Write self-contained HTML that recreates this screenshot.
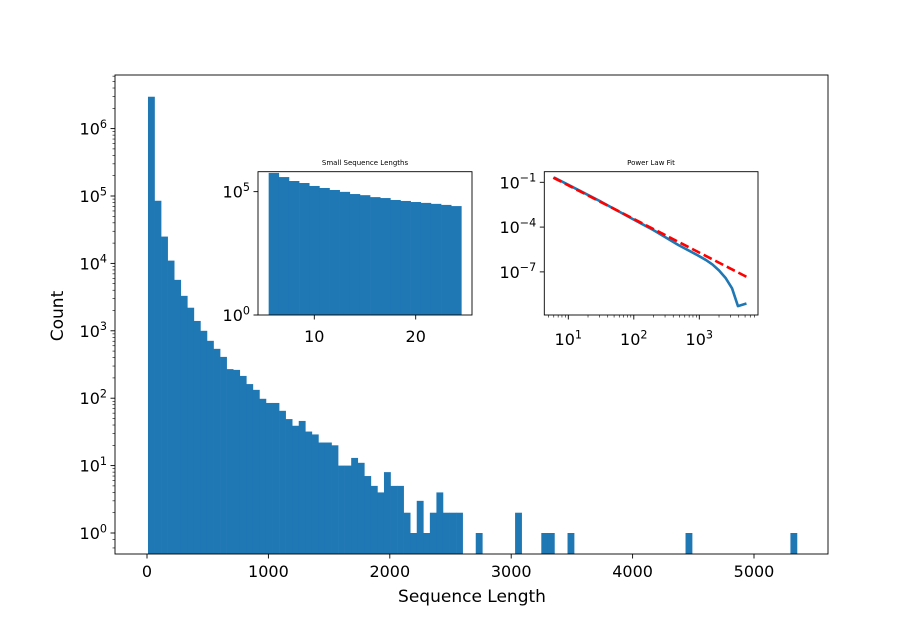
<!DOCTYPE html>
<html><head><meta charset="utf-8"><style>
html,body{margin:0;padding:0;background:#fff;}
svg{display:block;font-family:"DejaVu Sans","Liberation Sans",sans-serif;}
</style></head><body>
<svg id="chart" width="921" height="633" xmlns="http://www.w3.org/2000/svg"></svg>
<script>
// ===== main histogram data =====
const mainBinStart = 8;
const mainBinWidth = 54;
const mainCounts = [2970000,85000,25000,11000,5700,3300,2200,1400,1000,710,540,410,270,263,214,162,133,98,85,85,65,49,39,46,32,29,22,22,20,10,10,13,11,7,5,4,8,5,5,2,1,3,1,2,4,2,2,2,0,0,1,0,0,0,0,0,2,0,0,0,1,1,0,0,1,0,0,0,0,0,0,0,0,0,0,0,0,0,0,0,0,0,1,0,0,0,0,0,0,0,0,0,0,0,0,0,0,0,1];
const mainXTicks = [0,1000,2000,3000,4000,5000];
const mainYTicks = [0,1,2,3,4,5,6];
// ===== inset 1 data =====
const smallBinStart = 5.5;
const smallBinWidth = 1;
const smallCounts = [575000,390000,270000,224000,170000,141000,117000,98000,80000,72000,60000,55000,46000,42000,38000,35000,32000,29000,26000];
const smallXTicks = [10,20];
const smallYTicks = [0,5];
// ===== inset 2 data =====
const fitLogX = [0.78,1.0,1.5,2.0,2.3,2.68,2.98,3.1,3.2,3.3,3.4,3.5,3.59,3.72];
const fitLogY = [-0.67,-1.17,-2.3,-3.5,-4.2,-5.2,-5.9,-6.2,-6.5,-6.9,-7.4,-8.1,-9.29,-9.12];
const powerLogX = [0.771,3.748];
const powerLogY = [-0.69,-7.39];
const plXTicks = [1,2,3];
const plYTicks = [-1,-4,-7];

const svg = document.getElementById('chart');
const NS = 'http://www.w3.org/2000/svg';
function mk(tag, attrs, parent){const e=document.createElementNS(NS,tag);for(const k in attrs)e.setAttribute(k,attrs[k]);(parent||svg).appendChild(e);return e;}
function powLabel(parent,x,y,exp,size,anchor){
  const t=mk('text',{x:x,y:y,'font-size':size,'text-anchor':anchor,fill:'#000'},parent);
  t.appendChild(document.createTextNode('10'));
  const s=document.createElementNS(NS,'tspan');s.setAttribute('dy',-size*0.42);s.setAttribute('font-size',size*0.7);s.textContent=String(exp).replace('-','\u2212');t.appendChild(s);
  return t;
}

// ===== main axes =====
const M={l:115,r:828,t:75,b:554};
const mx=v=>147+(v/1000)*121.4;
const my=l=>533-l*67.4;
const gMain=mk('g',{});


mainCounts.forEach((c,i)=>{
  if(c<=0)return;
  const x0=mx(mainBinStart+i*mainBinWidth), x1=mx(mainBinStart+(i+1)*mainBinWidth);
  const y=my(Math.log10(c));
  const r=mk('rect',{x:x0,y:y,width:x1-x0+0.3,height:M.b-y,fill:'#1f77b4'},gMain);
  
  
});
const frame=mk('rect',{x:M.l,y:M.t,width:M.r-M.l,height:M.b-M.t,fill:'none',stroke:'#000','stroke-width':0.9});


mainXTicks.forEach(v=>{
  const x=mx(v);
  mk('line',{x1:x,x2:x,y1:M.b,y2:M.b+4.5,stroke:'#000','stroke-width':0.9});
  const t=mk('text',{x:x,y:M.b+23,'font-size':16,'text-anchor':'middle',fill:'#000'});
  t.textContent=v;
  
  
});
mainYTicks.forEach(l=>{
  const y=my(l);
  mk('line',{x1:M.l-4.5,x2:M.l,y1:y,y2:y,stroke:'#000','stroke-width':0.9});
  const t=powLabel(svg,M.l-8,y+6,l,16,'end');
  
  
  for(let k=2;k<10;k++){const ym=my(l+Math.log10(k));if(ym>M.t&&ym<M.b)mk('line',{x1:M.l-2.5,x2:M.l,y1:ym,y2:ym,stroke:'#000','stroke-width':0.6});}
});
{const ym=my(Math.log10(0.6));mk('line',{x1:M.l-2.5,x2:M.l,y1:ym,y2:ym,stroke:'#000','stroke-width':0.6});
 const ym2=my(Math.log10(0.8));mk('line',{x1:M.l-2.5,x2:M.l,y1:ym2,y2:ym2,stroke:'#000','stroke-width':0.6});}
const xl=mk('text',{x:472,y:602,'font-size':17,'text-anchor':'middle',fill:'#000'});xl.textContent='Sequence Length';

const yl=mk('text',{x:0,y:0,'font-size':17,'text-anchor':'middle',fill:'#000',transform:'translate(63,316) rotate(-90)'});yl.textContent='Count';


// ===== inset 1 =====
const A={l:258,r:472,t:171.7,b:315};
const ax=v=>314.3+(v-10)*10.14;
const ay=l=>315-l*24.67;
const g1=mk('g',{});


mk('rect',{x:A.l,y:A.t,width:A.r-A.l,height:A.b-A.t,fill:'#fff'},g1);
smallCounts.forEach((c,i)=>{
  const x0=ax(smallBinStart+i*smallBinWidth),x1=ax(smallBinStart+(i+1)*smallBinWidth);
  const y=ay(Math.log10(c));
  const r=mk('rect',{x:x0,y:y,width:x1-x0+0.3,height:A.b-y,fill:'#1f77b4'},g1);
  
  
});
mk('rect',{x:A.l,y:A.t,width:A.r-A.l,height:A.b-A.t,fill:'none',stroke:'#000','stroke-width':0.9},g1);
smallXTicks.forEach(v=>{const x=ax(v);mk('line',{x1:x,x2:x,y1:A.b,y2:A.b+4.5,stroke:'#000','stroke-width':0.9},g1);
  const t=mk('text',{x:x,y:A.b+27,'font-size':16,'text-anchor':'middle',fill:'#000'},g1);t.textContent=v;});
smallYTicks.forEach(l=>{const y=ay(l);mk('line',{x1:A.l-4.5,x2:A.l,y1:y,y2:y,stroke:'#000','stroke-width':0.9},g1);
  powLabel(g1,A.l-8,y+6,l,16,'end');});
const t1=mk('text',{x:365,y:165,'font-size':7,'text-anchor':'middle',fill:'#000'},g1);t1.textContent='Small Sequence Lengths';


// ===== inset 2 =====
const B={l:544.3,r:758,t:171.7,b:315};
const bx=l=>568.3+(l-1)*65.5;
const by=l=>182.3-(l+1)*14.93;
const g2=mk('g',{});


mk('rect',{x:B.l,y:B.t,width:B.r-B.l,height:B.b-B.t,fill:'#fff',stroke:'#000','stroke-width':0.9},g2);
const fitPath=mk('path',{d:fitLogX.map((v,i)=>(i?'L':'M')+bx(v)+','+by(fitLogY[i])).join(''),fill:'none',stroke:'#1f77b4','stroke-width':2.6,'stroke-linejoin':'round'},g2);

const pl=mk('path',{d:powerLogX.map((v,i)=>(i?'L':'M')+bx(v)+','+by(powerLogY[i])).join(''),fill:'none',stroke:'#ff0000','stroke-width':2.6,'stroke-dasharray':'9,4'},g2);

plXTicks.forEach(l=>{const x=bx(l);mk('line',{x1:x,x2:x,y1:B.b,y2:B.b+4.5,stroke:'#000','stroke-width':0.9},g2);
  powLabel(g2,x,B.b+30,l,16,'middle');});
for(let d=0;d<4;d++)for(let k=2;k<10;k++){const x=bx(d+Math.log10(k));if(x>B.l&&x<B.r)mk('line',{x1:x,x2:x,y1:B.b,y2:B.b+2.5,stroke:'#000','stroke-width':0.6},g2);}
plYTicks.forEach(l=>{const y=by(l);mk('line',{x1:B.l-4.5,x2:B.l,y1:y,y2:y,stroke:'#000','stroke-width':0.9},g2);
  powLabel(g2,B.l-8,y+6,l,16,'end');});
const t2=mk('text',{x:651,y:165,'font-size':7,'text-anchor':'middle',fill:'#000'},g2);t2.textContent='Power Law Fit';

</script>
</body></html>
